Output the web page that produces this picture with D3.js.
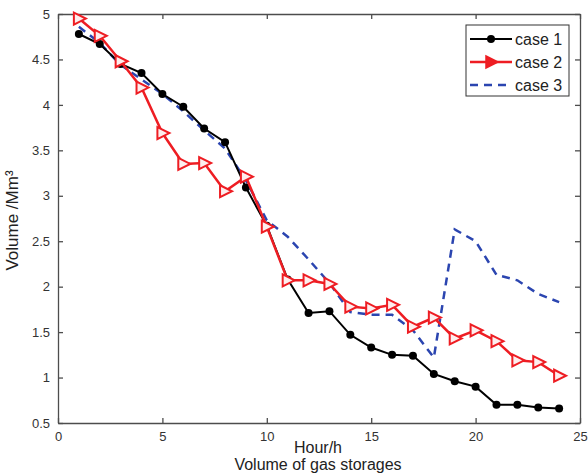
<!DOCTYPE html>
<html>
<head>
<meta charset="utf-8">
<script src="https://cdn.jsdelivr.net/npm/d3@7"></script>
<style>
  body { margin: 0; background: #fff; }
  text { font-family: "Liberation Sans", Arial, sans-serif; }
</style>
</head>
<body>
<div id="chart-area"></div>
<script>
// hours 1..24
var hours = d3.range(1, 25);
var case1 = [4.78, 4.67, 4.45, 4.35, 4.12, 3.98, 3.74, 3.59, 3.09, 2.67, 2.08, 1.71, 1.73, 1.47, 1.33, 1.25, 1.24, 1.04, 0.96, 0.90, 0.70, 0.70, 0.67, 0.66];
var case2 = [4.95, 4.76, 4.48, 4.19, 3.69, 3.35, 3.36, 3.05, 3.21, 2.66, 2.07, 2.07, 2.03, 1.78, 1.76, 1.80, 1.56, 1.66, 1.43, 1.52, 1.40, 1.19, 1.17, 1.02];
var case3 = [4.86, 4.68, 4.44, 4.28, 4.12, 3.93, 3.72, 3.52, 3.17, 2.73, 2.55, 2.30, 2.04, 1.72, 1.69, 1.69, 1.52, 1.22, 2.63, 2.50, 2.13, 2.07, 1.92, 1.83];
var seriesNames = ["case 1", "case 2", "case 3"];
var xTicks = [0, 5, 10, 15, 20, 25];
var yTicks = [0.5, 1, 1.5, 2, 2.5, 3, 3.5, 4, 4.5, 5];

var margin = { left: 58, right: 8, top: 14, bottom: 53 };
var width = 588 - margin.left - margin.right;
var height = 476 - margin.top - margin.bottom;

var svg = d3.select("#chart-area")
    .append("svg")
        .attr("width", 588)
        .attr("height", 476)
    .append("g")
        .attr("transform", "translate(" + margin.left + "," + margin.top + ")");

var x = d3.scaleLinear().domain([0, 25]).range([0, width]);
var y = d3.scaleLinear().domain([0.5, 5]).range([height, 0]);

var axisColor = "#4d4d4d";
var labelColor = "#333";

// axes, matlab style ticks inside
svg.append("g")
    .attr("transform", "translate(0," + height + ")")
    .call(d3.axisBottom(x).tickValues(xTicks).tickSizeInner(-5).tickSizeOuter(0).tickPadding(9));
svg.append("g")
    .call(d3.axisLeft(y).tickValues(yTicks).tickFormat(d3.format("")).tickSizeInner(-5).tickSizeOuter(0).tickPadding(8));
svg.append("g")
    .call(d3.axisTop(x).tickValues(xTicks).tickSizeInner(-5).tickSizeOuter(0).tickFormat(""));
svg.append("g")
    .attr("transform", "translate(" + width + ",0)")
    .call(d3.axisRight(y).tickValues(yTicks).tickSizeInner(-5).tickSizeOuter(0).tickFormat(""));

svg.selectAll(".domain, .tick line").attr("stroke", axisColor).attr("stroke-width", 1.3);
svg.selectAll(".tick text")
    .attr("fill", labelColor)
    .style("font-size", "13px");

// axis titles
svg.append("text")
    .attr("transform", "translate(-40," + (height / 2 + 2) + ") rotate(-90)")
    .attr("text-anchor", "middle")
    .style("font-size", "17px")
    .attr("fill", "#222")
    .text("Volume /Mm³");

svg.append("text")
    .attr("x", 260)
    .attr("y", height + 30)
    .attr("text-anchor", "middle")
    .style("font-size", "16px")
    .attr("fill", "#222")
    .text("Hour/h");

svg.append("text")
    .attr("x", 260)
    .attr("y", height + 47)
    .attr("text-anchor", "middle")
    .style("font-size", "16px")
    .attr("fill", "#222")
    .text("Volume of gas storages");

var line = d3.line()
    .x(function(d){ return x(d.h); })
    .y(function(d){ return y(d.v); });

function toPts(vals){
    return vals.map(function(v, i){ return { h: hours[i], v: v }; });
}

var red = "#ee1d23";
var blue = "#2b45b0";

// case 3 dashed
svg.append("path")
    .datum(toPts(case3))
    .attr("fill", "none")
    .attr("stroke", blue)
    .attr("stroke-width", 2.5)
    .attr("stroke-dasharray", "8,6")
    .attr("d", line);

// case 1 black with dots
svg.append("path")
    .datum(toPts(case1))
    .attr("fill", "none")
    .attr("stroke", "#000")
    .attr("stroke-width", 2)
    .attr("d", line);
svg.selectAll(".dot")
    .data(toPts(case1))
  .enter().append("circle")
    .attr("class", "dot")
    .attr("cx", function(d){ return x(d.h); })
    .attr("cy", function(d){ return y(d.v); })
    .attr("r", 4)
    .attr("fill", "#000");

// case 2 red with right triangles
svg.append("path")
    .datum(toPts(case2))
    .attr("fill", "none")
    .attr("stroke", red)
    .attr("stroke-width", 2.5)
    .attr("d", line);
var tri = "M-5,-6L7,0L-5,6Z";
svg.selectAll(".tri")
    .data(toPts(case2))
  .enter().append("path")
    .attr("class", "tri")
    .attr("transform", function(d){ return "translate(" + x(d.h) + "," + y(d.v) + ")"; })
    .attr("d", tri)
    .attr("fill", "#fdeeee")
    .attr("stroke", red)
    .attr("stroke-width", 2);

// legend
var lg = svg.append("g").attr("transform", "translate(" + (466 - margin.left) + "," + (25 - margin.top) + ")");
lg.append("rect")
    .attr("width", 103)
    .attr("height", 71)
    .attr("fill", "#fff")
    .attr("stroke", "#333")
    .attr("stroke-width", 1);

var rows = lg.selectAll(".row")
    .data(seriesNames)
  .enter().append("g")
    .attr("transform", function(d, i){ return "translate(0," + (14 + i * 23) + ")"; });

rows.append("line")
    .attr("x1", 4).attr("x2", 46)
    .attr("stroke", function(d, i){ return i === 0 ? "#000" : i === 1 ? red : blue; })
    .attr("stroke-width", function(d, i){ return i === 0 ? 2 : 2.5; })
    .attr("stroke-dasharray", function(d, i){ return i === 2 ? "8,6" : null; });

rows.filter(function(d, i){ return i === 0; }).append("circle")
    .attr("cx", 25).attr("r", 4).attr("fill", "#000");
rows.filter(function(d, i){ return i === 1; }).append("path")
    .attr("transform", "translate(25,0)")
    .attr("d", tri)
    .attr("fill", red)
    .attr("stroke", red)
    .attr("stroke-width", 1.5);

rows.append("text")
    .attr("x", 49)
    .attr("dy", "0.35em")
    .style("font-size", "16px")
    .attr("fill", "#222")
    .text(function(d){ return d; });
</script>
</body>
</html>
